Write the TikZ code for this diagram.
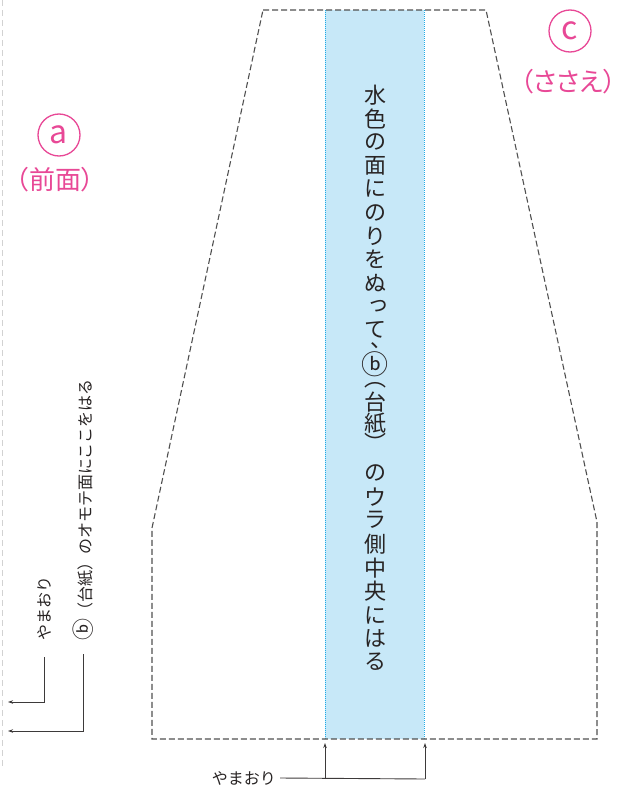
\documentclass[tikz,border=0pt]{standalone}
\usepackage{fontspec}
\newfontfamily\jpfont{Noto Sans CJK JP}
\newfontfamily\jppfont[RawFeature=+palt]{Noto Sans CJK JP}
\usetikzlibrary{arrows.meta}

\definecolor{kitpink}{RGB}{232,72,150}
\definecolor{stripblue}{RGB}{199,232,248}
\definecolor{stripedge}{RGB}{30,170,230}
\definecolor{cutgray}{RGB}{80,80,80}
\definecolor{inkgray}{RGB}{40,36,36}

% bigger circled b
\newcommand{\bmark}[1]{{\fontsize{#1}{#1}\selectfont ⓑ}}

\tikzset{
  cut/.style={cutgray, line width=1.1pt, dash pattern=on 6pt off 3pt},
  lead/.style={inkgray!90, line width=0.9pt},
  tip/.style={-{Stealth[length=5pt, width=3.5pt]}},
  note/.style={inner sep=0pt, text=inkgray, font=\jpfont\fontsize{16}{16}\selectfont},
  stripchar/.style={inner sep=0pt, text=inkgray, font=\jpfont\fontsize{22}{22}\selectfont},
  circlabel/.style={circle, draw=kitpink, line width=1.3pt, text=kitpink, minimum size=42pt,
    inner sep=0pt, font=\jpfont\fontsize{32}{32}\selectfont},
  pinktext/.style={inner sep=0pt, text=kitpink, font=\jppfont\fontsize{26}{26}\selectfont}
}

\begin{document}
\begin{tikzpicture}[x=1pt, y=-1pt]
  \useasboundingbox (0,0) rectangle (626,787);

  % Fold edge on the left
  \draw [gray!35, line width=1pt, dash pattern=on 6pt off 4pt] (2,0) -- (2,766);

  % Blue strip
  \fill [stripblue] (325,10) rectangle (424,739);
  \draw [stripedge, line width=0.8pt, dash pattern=on 1pt off 1pt] (325,10) -- (325,739) (424,10) -- (424,739);

  % Outline of the part
  \draw [cut] (263,10) -- (486,10) -- (597,522) -- (597,739) -- (152,739) -- (152,528) -- cycle;

  % Text in the strip
  \foreach \ch/\x/\y [count=\i] in {水/375/95, 色/375/118.5, の/375/142, 面/375/165.5, に/375/189,
      の/375/212.5, り/375/236, を/375/259.5, ぬ/375/283, っ/378/306.5, て/375/330, 、/381/346,
      \bmark{27}/375/364, ︵/375/385, 台/375/402, 紙/375/423, ︶/375/442, の/375/473, ウ/375/497,
      ラ/375/520, 側/375/544, 中/375/568, 央/375/591.5, に/375/615, は/375/638.5, る/375/662}
    \node [stripchar] (s\i) at (\x,\y) {\ch};

  % Labels a and c
  \node [circlabel] (front) at (59,135) {a};
  \node [pinktext] (fronttext) at (55,180) {（前面）};
  \node [circlabel] (stand) at (570,31) {c};
  \node [pinktext] (standtext) at (568,82) {（ささえ）};

  % Notes on the left
  \node [note, rotate=90, anchor=west] (foldleft) at (44,641) {やまおり};
  \node [note, rotate=90, anchor=west] (paste) at (83,641) {\bmark{22}（台紙）のオモテ面にここをはる};
  \coordinate (endA) at (8,702);
  \coordinate (endB) at (8,731);
  \draw [lead, tip] ([yshift=-16pt]foldleft.west) |- (endA);
  \draw [lead, tip] ([yshift=-13pt]paste.west) |- (endB);

  % Fold note at the bottom
  \node [note, anchor=east] (foldbottom) at (276,778) {やまおり};
  \coordinate (footL) at (325,779);
  \coordinate (footR) at (425,779);
  \coordinate (headL) at (325,743);
  \coordinate (headR) at (425,743);
  \draw [lead] ([xshift=4pt]foldbottom.east) -- (footR);
  \draw [lead, tip] (footL) -- (headL);
  \draw [lead, tip] (footR) -- (headR);
\end{tikzpicture}
\end{document}
